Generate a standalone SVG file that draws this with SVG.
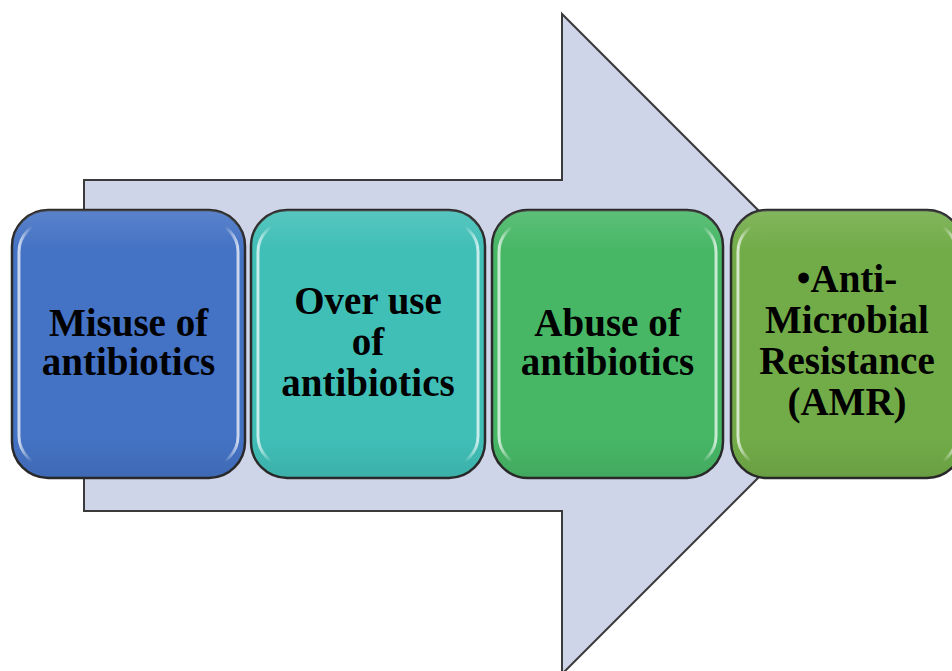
<svg xmlns="http://www.w3.org/2000/svg" width="952" height="671" viewBox="0 0 952 671">
<defs>
<style>
.box{stroke:#2a2a2a;stroke-width:2.5}
.gl{fill:none;stroke:url(#gloss);stroke-width:3;opacity:0.8}
.t{font-family:"Liberation Serif","Times New Roman",serif;font-weight:bold;font-size:39px;fill:#000;text-anchor:middle}
</style>
<linearGradient id="gloss" x1="0" y1="0" x2="1" y2="0">
<stop offset="0" stop-color="#ffffff" stop-opacity="0.9"/>
<stop offset="0.06" stop-color="#ffffff" stop-opacity="0"/>
<stop offset="0.94" stop-color="#ffffff" stop-opacity="0"/>
<stop offset="1" stop-color="#ffffff" stop-opacity="0.9"/>
</linearGradient>
<linearGradient id="shade" x1="0" y1="0" x2="0" y2="1">
<stop offset="0" stop-color="#ffffff" stop-opacity="0.12"/>
<stop offset="0.15" stop-color="#ffffff" stop-opacity="0"/>
<stop offset="0.85" stop-color="#000000" stop-opacity="0"/>
<stop offset="1" stop-color="#000000" stop-opacity="0.08"/>
</linearGradient>
</defs>
<rect width="952" height="671" fill="#ffffff"/>
<g id="connectors">
<path d="M84 180 H562 V14 L892 344 L562 674 V511 H84 Z" fill="#cfd5e8" stroke="#3a3a3a" stroke-width="2"/>
</g>
<g id="node1">
<rect class="box" x="12" y="210" width="233" height="268" rx="36" fill="#4472c4"/>
<rect x="12" y="210" width="233" height="268" rx="36" fill="url(#shade)"/>
<rect class="gl" x="19" y="222" width="219" height="244" rx="30"/>
<text class="t" x="128.5" y="336">Misuse of</text>
<text class="t" x="128.5" y="375">antibiotics</text>
</g>
<g id="node2">
<rect class="box" x="251" y="210" width="234" height="268" rx="36" fill="#40bfb7"/>
<rect x="251" y="210" width="234" height="268" rx="36" fill="url(#shade)"/>
<rect class="gl" x="258" y="222" width="220" height="244" rx="30"/>
<text class="t" x="368" y="314">Over use</text>
<text class="t" x="368" y="355">of</text>
<text class="t" x="368" y="396">antibiotics</text>
</g>
<g id="node3">
<rect class="box" x="492" y="210" width="231" height="268" rx="36" fill="#47b766"/>
<rect x="492" y="210" width="231" height="268" rx="36" fill="url(#shade)"/>
<rect class="gl" x="499" y="222" width="217" height="244" rx="30"/>
<text class="t" x="607.5" y="336">Abuse of</text>
<text class="t" x="607.5" y="375">antibiotics</text>
</g>
<g id="node4">
<rect class="box" x="731" y="210" width="232" height="268" rx="36" fill="#72ac48"/>
<rect x="731" y="210" width="232" height="268" rx="36" fill="url(#shade)"/>
<rect class="gl" x="738" y="222" width="218" height="244" rx="30"/>
<text class="t" x="847" y="292">•Anti-</text>
<text class="t" x="847" y="333">Microbial</text>
<text class="t" x="847" y="374">Resistance</text>
<text class="t" x="847" y="415">(AMR)</text>
</g>
</svg>
